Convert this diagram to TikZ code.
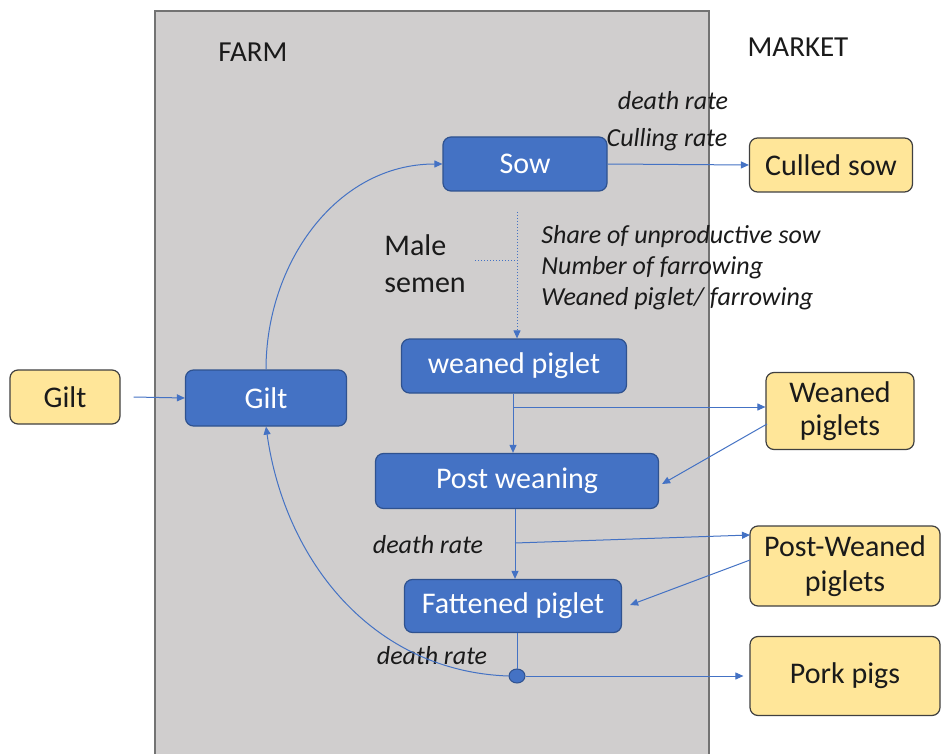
\documentclass[tikz,border=0pt]{standalone}
\usepackage{fontspec}
\setmainfont{Carlito}
\usetikzlibrary{arrows.meta,calc,shapes.geometric}
\definecolor{boxblue}{HTML}{4472C4}
\definecolor{boxblueedge}{HTML}{2F528F}
\definecolor{boxyellow}{HTML}{FFE699}
\definecolor{farmgray}{HTML}{D0CECE}
\definecolor{lineblue}{HTML}{4472C4}
\definecolor{txt}{HTML}{1A1A1A}
\begin{document}
\begin{tikzpicture}[x=0.5pt,y=-0.5pt,
  bluebox/.style={draw=boxblueedge, fill=boxblue, rounded corners=4pt, text=white,
    font=\fontsize{15}{18}\selectfont, line width=0.6pt, inner sep=0pt},
  yelbox/.style={draw=black!75, fill=boxyellow, rounded corners=4pt, text=txt,
    font=\fontsize{15}{16.5}\selectfont, align=center, line width=0.6pt, inner sep=0pt},
  flow/.style={draw=lineblue, line width=0.5pt, -{Triangle[length=4pt,width=3.5pt]}},
  plain/.style={draw=lineblue, line width=0.5pt},
  lbl/.style={font=\fontsize{13}{15.5}\selectfont\itshape, text=txt, inner sep=0pt},
  hdr/.style={font=\fontsize{14.5}{17}\selectfont, text=txt, inner sep=0pt}]

\useasboundingbox (0,0) rectangle (947,754);
\fill[white] (0,0) rectangle (947,754);
\fill[farmgray] (155,11) rectangle (709,760);
\draw[black!55, line width=0.6pt] (155,760) -- (155,11) -- (709,11) -- (709,760);

% headers
\node[hdr] (farm) at (253,52) {FARM};
\node[hdr] (market) at (798,47) {MARKET};

% boxes
\node[bluebox, minimum width=82pt, minimum height=27pt] (sow) at (525,164) {Sow};
\node[yelbox, minimum width=81.5pt, minimum height=27pt] (culled) at (831,165) {Culled sow};
\node[bluebox, minimum width=112.5pt, minimum height=27pt] (weaned) at (514,366) {weaned piglet};
\node[yelbox, minimum width=55pt, minimum height=27pt] (giltM) at (65,397) {Gilt};
\node[bluebox, minimum width=80.5pt, minimum height=28pt] (giltF) at (266,398) {Gilt};
\node[yelbox, minimum width=74pt, minimum height=38.5pt] (weanedM) at (840,411) {Weaned\\piglets};
\node[bluebox, minimum width=141.5pt, minimum height=27.5pt] (post) at (517,481) {Post weaning};
\node[yelbox, minimum width=95pt, minimum height=40pt, font=\fontsize{15}{17.5}\selectfont] (postM) at (845,566) {Post-Weaned\\piglets};
\node[bluebox, minimum width=108.5pt, minimum height=26.5pt] (fat) at (513,606) {Fattened piglet};
\node[yelbox, minimum width=95pt, minimum height=39.5pt] (pork) at (845,676) {Pork pigs};
\node[ellipse, draw=boxblueedge, fill=boxblue, minimum width=8pt, minimum height=7pt, inner sep=0pt, line width=0.5pt] (dot) at (517,676) {};

% labels
\node[lbl] (dr1) at (673,101) {death rate};
\node[lbl] (cr) at (667,140) {Culling rate};
\node[hdr, align=left, font=\fontsize{15}{18.5}\selectfont, anchor=north west] (male) at (384,234) {Male\\semen};
\node[lbl, align=left, anchor=north west] (share) at (541,225) {Share of unproductive sow\\Number of farrowing\\Weaned piglet/ farrowing};
\node[lbl] (dr2) at (428,545) {death rate};
\node[lbl] (dr3) at (432,656) {death rate};

% coordinates
\coordinate (mstart) at (475,261);
\coordinate (vtop) at (517,212);
\coordinate (vjoin) at (517,261);
\coordinate (b1) at (513,407);
\coordinate (b2) at (515,543);
\coordinate (postMin) at (750,535);
\coordinate (postMout) at (750,560);
\coordinate (weanedMout) at (767,424);

% connectors
\draw[flow] (giltM.east) ++(13,0) -- (giltF.west);
\draw[flow] (giltF.north) to[out=90, in=180] (sow.west);
\draw[flow] (sow.east) -- (culled.west);
\draw[plain, densely dotted] (mstart) -- (vjoin);
\draw[flow, densely dotted] (vtop) -- (vtop |- weaned.north);
\draw[flow] (b1 |- weaned.south) -- (b1 |- post.north);
\draw[flow] (b1) -- (b1 -| weanedM.west);
\draw[flow] (weanedMout) -- ($(post.east)+(3,3)$);
\draw[flow] (b2 |- post.south) -- (b2 |- fat.north);
\draw[flow] (b2) -- (postMin);
\draw[flow] (postMout) -- ($(fat.east)+(8,-1)$);
\draw[plain] (fat.south -| dot.north) -- (dot.north);
\draw[flow] (dot.east) -- ($(pork.west)+(-6,0)$);
\draw[flow] (dot.west) to[out=178, in=-82, looseness=1.0] (giltF.south);
\end{tikzpicture}
\end{document}
